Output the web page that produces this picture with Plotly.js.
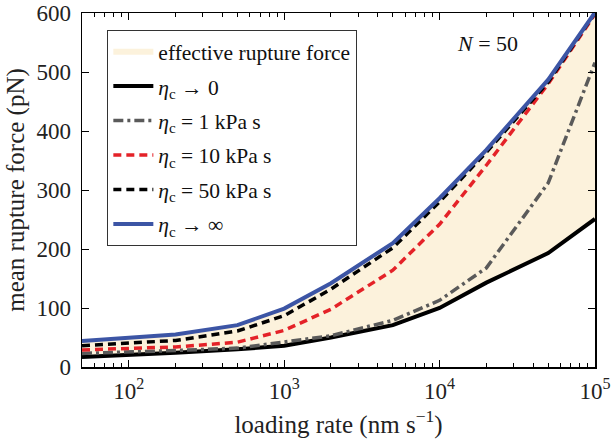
<!DOCTYPE html>
<html>
<head>
<meta charset="utf-8">
<script src="https://cdn.plot.ly/plotly-3.0.1.min.js"></script>
<style>html,body{margin:0;padding:0;background:#fff;}#chart{width:611px;height:442px;}</style>
</head>
<body>
<div id="chart"></div>
<script>
// loading rate (nm s^-1)
const rates = [50, 100, 200, 500, 1000, 2000, 5000, 10000, 20000, 50000, 100000];
// mean rupture force (pN)
const etaZero   = [17, 20, 24, 30, 36, 50, 71, 100, 143, 193, 251];
const eta1      = [23, 25, 28, 32, 42, 53, 79, 113, 168, 312, 516];
const eta10     = [29, 31, 34, 42, 62, 98, 164, 242, 342, 480, 598];
const eta50     = [36, 40, 45, 61, 87, 132, 202, 280, 364, 483, 600];
const etaInf    = [44, 49, 55, 71, 99, 142, 210, 286, 368, 487, 601];
const seriesNames = ['effective rupture force', '<i>η</i><sub>c</sub> → 0', '<i>η</i><sub>c</sub> = 1 kPa s', '<i>η</i><sub>c</sub> = 10 kPa s', '<i>η</i><sub>c</sub> = 50 kPa s', '<i>η</i><sub>c</sub> → ∞'];
const xTickVals = [100, 1000, 10000, 100000];
const xTickText = ['10<sup>2</sup>', '10<sup>3</sup>', '10<sup>4</sup>', '10<sup>5</sup>'];
const xMinorVals = [60,70,80,90,200,300,400,500,600,700,800,900,2000,3000,4000,5000,6000,7000,8000,9000,20000,30000,40000,50000,60000,70000,80000,90000];

const serif = 'Liberation Serif';

const fillX = rates.concat(rates.slice().reverse());
const fillY = etaZero.concat(etaInf.slice().reverse());

const traces = [
  {x: fillX, y: fillY, type: 'scatter', mode: 'none', fill: 'toself', fillcolor: '#fcf2dc', name: seriesNames[0], legendgroup: 'g0', hoverinfo: 'skip'},
  {x: rates, y: etaZero, type: 'scatter', mode: 'lines', line: {color: '#000000', width: 4}, name: seriesNames[1], legendgroup: 'g1'},
  {x: rates, y: eta1, type: 'scatter', mode: 'lines', line: {color: '#5a5a5a', width: 3.5, dash: '10px,4px,3px,4px'}, name: seriesNames[2], legendgroup: 'g2'},
  {x: rates, y: eta10, type: 'scatter', mode: 'lines', line: {color: '#e42228', width: 3.5, dash: '8px,5px'}, name: seriesNames[3], legendgroup: 'g3'},
  {x: rates, y: eta50, type: 'scatter', mode: 'lines', line: {color: '#000000', width: 3.5, dash: '8px,5px'}, name: seriesNames[4], legendgroup: 'g4'},
  {x: rates, y: etaInf, type: 'scatter', mode: 'lines', line: {color: '#3c55a5', width: 4}, name: seriesNames[5], legendgroup: 'g5'}
];

const layout = {
  width: 611, height: 442,
  margin: {l: 82, r: 16, t: 13, b: 75},
  paper_bgcolor: '#ffffff', plot_bgcolor: '#ffffff',
  font: {family: serif, color: '#222222', size: 22},
  showlegend: true,
  legend: {
    x: 0.049, y: 0.952, xanchor: 'left', yanchor: 'top',
    bgcolor: '#ffffff', bordercolor: '#333333', borderwidth: 1.2,
    font: {family: serif, size: 21.5, color: '#111111'},
    tracegroupgap: 3.5, itemwidth: 40
  },
  xaxis: {
    type: 'log', range: [Math.log10(50), 5],
    tickmode: 'array', tickvals: xTickVals, ticktext: xTickText,
    ticks: 'inside', ticklen: 7, tickwidth: 1, tickcolor: '#000',
    minor: {tickmode: 'array', tickvals: xMinorVals, ticks: 'inside', ticklen: 4, tickwidth: 1, tickcolor: '#000', showgrid: false},
    showline: true, linecolor: '#000', linewidth: 1.5, mirror: 'ticks',
    showgrid: false, zeroline: false, ticklabelstandoff: 3,
    tickfont: {family: serif, size: 23, color: '#222'},
    title: {text: 'loading rate (nm s<sup>−1</sup>)', font: {family: serif, size: 25, color: '#222'}, standoff: 12}
  },
  yaxis: {
    range: [0, 600], tickvals: [0,100,200,300,400,500,600],
    ticks: 'inside', ticklen: 7, tickwidth: 1, tickcolor: '#000',
    showline: true, linecolor: '#000', linewidth: 1.5, mirror: 'ticks',
    showgrid: false, zeroline: false, ticklabelstandoff: 5,
    tickfont: {family: serif, size: 23, color: '#222'},
    title: {text: 'mean rupture force (pN)', font: {family: serif, size: 25, color: '#222'}, standoff: 4}
  },
  annotations: [{
    xref: 'paper', yref: 'paper', x: 0.79, y: 0.915, xanchor: 'center', yanchor: 'middle',
    text: '<i>N</i> = 50', showarrow: false, font: {family: serif, size: 22, color: '#111'}
  }]
};

Plotly.newPlot('chart', traces, layout, {displayModeBar: false, staticPlot: true});
</script>
</body>
</html>
